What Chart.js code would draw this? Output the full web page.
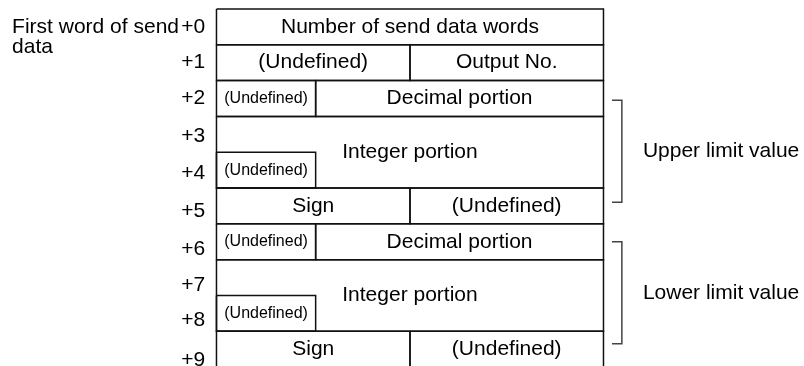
<!DOCTYPE html>
<html>
<head>
<meta charset="utf-8">
<script src="https://cdn.jsdelivr.net/npm/chart.js@4.4.1/dist/chart.umd.min.js"></script>
<style>
    html, body { margin: 0; padding: 0; background: #fff; }
</style>
</head>
<body>
<canvas id="layoutChart" width="804" height="366"></canvas>
<script>
// word offsets down the left side (y in words)
const wordLabels = ['+0', '+1', '+2', '+3', '+4', '+5', '+6', '+7', '+8', '+9'];
const wordLabelAt = [0.5, 1.5, 2.5, 3.55, 4.6, 5.65, 6.7, 7.72, 8.7, 9.8];
const headingLines = ['First word of send', 'data'];

// fields of the send data area (rows in words, columns in bits)
const fieldText = [
    'Number of send data words',
    '(Undefined)', 'Output No.',
    '(Undefined)', 'Decimal portion',
    'Integer portion', '(Undefined)',
    'Sign', '(Undefined)',
    '(Undefined)', 'Decimal portion',
    'Integer portion', '(Undefined)',
    'Sign', '(Undefined)'
];
const fieldTop =    [0, 1, 1, 2, 2, 3, 4, 5, 5, 6, 6, 7, 8, 9, 9];
const fieldBottom = [1, 2, 2, 3, 3, 5, 5, 6, 6, 7, 7, 9, 9, 10, 10];
const fieldLeft =   [0, 0, 8, 0, 4.1, 0, 0, 0, 8, 0, 4.1, 0, 0, 0, 8];
const fieldRight =  [16, 8, 16, 4.1, 16, 16, 4.1, 8, 16, 4.1, 16, 16, 4.1, 8, 16];

// brackets on the right
const groupText = ['Upper limit value', 'Lower limit value'];
const groupTop = [2.55, 6.5];
const groupBottom = [5.4, 9.35];

const FONT = '"Liberation Sans", Arial, sans-serif';

const datasets = [];
fieldText.forEach((t, i) => {
    const l = fieldLeft[i], r = fieldRight[i], top = fieldTop[i], b = fieldBottom[i];
    datasets.push({
        data: [{x: l, y: top}, {x: r, y: top}, {x: r, y: b}, {x: l, y: b}, {x: l, y: top}],
        borderColor: '#111',
        borderWidth: 1.5
    });
});
groupText.forEach((t, i) => {
    datasets.push({
        data: [
            {x: 16.35, y: groupTop[i]}, {x: 16.76, y: groupTop[i]},
            {x: 16.76, y: groupBottom[i]}, {x: 16.35, y: groupBottom[i]}
        ],
        borderColor: '#444',
        borderWidth: 1.5
    });
});

function drawText(ctx, text, x, y, size, align) {
    ctx.save();
    ctx.font = size + 'px ' + FONT;
    ctx.fillStyle = '#000';
    ctx.textAlign = align;
    ctx.textBaseline = 'middle';
    ctx.fillText(text, x, y);
    ctx.restore();
}

const labelPlugin = {
    id: 'labels',
    afterDatasetsDraw(chart) {
        const ctx = chart.ctx;
        const xs = chart.scales.x, ys = chart.scales.y;

        fieldText.forEach((t, i) => {
            const w = fieldRight[i] - fieldLeft[i];
            const cx = xs.getPixelForValue((fieldLeft[i] + fieldRight[i]) / 2);
            const cy = ys.getPixelForValue((fieldTop[i] + fieldBottom[i]) / 2);
            drawText(ctx, t, cx, cy, w < 5 ? 16 : 21, 'center');
        });

        wordLabels.forEach((t, i) => {
            drawText(ctx, t, xs.getPixelForValue(-0.47), ys.getPixelForValue(wordLabelAt[i]), 21, 'right');
        });

        headingLines.forEach((t, i) => {
            drawText(ctx, t, xs.getPixelForValue(-8.45), ys.getPixelForValue(0.5) + i * 20, 21, 'left');
        });

        groupText.forEach((t, i) => {
            const cy = ys.getPixelForValue((groupTop[i] + groupBottom[i]) / 2);
            drawText(ctx, t, xs.getPixelForValue(17.63), cy, 21, 'left');
        });
    }
};

new Chart(document.getElementById('layoutChart'), {
    type: 'scatter',
    data: { datasets: datasets },
    options: {
        responsive: false,
        animation: false,
        devicePixelRatio: 1,
        showLine: true,
        elements: {
            point: { radius: 0 },
            line: { tension: 0 }
        },
        layout: { padding: 0 },
        scales: {
            x: { type: 'linear', min: -8.95, max: 24.29, display: false },
            y: { type: 'linear', min: -0.25, max: 9.97, reverse: true, display: false }
        },
        plugins: {
            legend: { display: false },
            tooltip: { enabled: false }
        }
    },
    plugins: [labelPlugin]
});
</script>
</body>
</html>
